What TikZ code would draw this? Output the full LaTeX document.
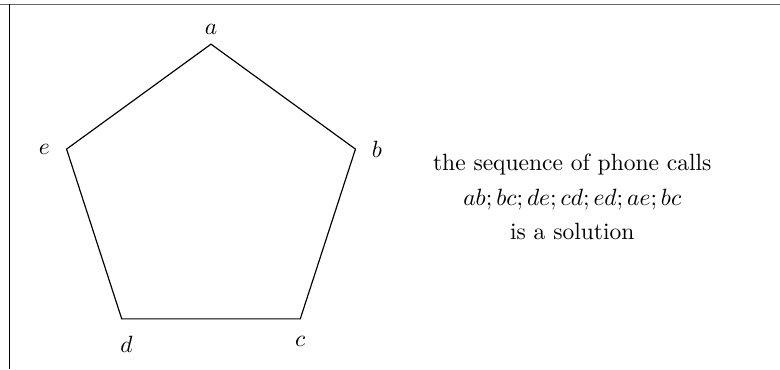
\documentclass[tikz,border=0pt]{standalone}
\usetikzlibrary{positioning}

\begin{document}
\begin{tikzpicture}[
    ivica/.style={draw=black, line width=0.5pt},
    oznaka/.style={inner sep=3.33pt},
    okvir/.style={line width=0.5pt},
    opis/.style={align=center, text centered}]

    \useasboundingbox (-3.154,-2.586) rectangle (8.505,2.930);

    % okvir
    \draw [okvir, line width=0.8pt, draw=black!60] (-3.154,2.863) -- (8.505,2.863);
    \draw [okvir] (-3.012,2.863) -- (-3.012,-2.586);

    % temena petougla
    \coordinate (a) at (90:2.27);
    \coordinate (b) at (18:2.27);
    \coordinate (c) at (-54:2.27);
    \coordinate (d) at (-126:2.27);
    \coordinate (e) at (162:2.27);

    \draw [ivica] (a) -- (b) -- (c) -- (d) -- (e) -- cycle;

    % oznake
    \node (la) [oznaka, above=0.5pt of a]             {$a$};
    \node (lb) [oznaka, right=3.5pt of b]             {$b$};
    \node (lc) [oznaka, below=4pt of c]               {$c$};
    \node (ld) [oznaka, below=4pt of d, xshift=2pt]   {$d$};
    \node (le) [oznaka, left=3.6pt of e]              {$e$};

    \node (resenje) [opis] at (5.40,-0.015)
        {the sequence of phone calls\\[2.6pt] $ab;bc;de;cd;ed;ae;bc$\\[2.6pt] is a solution};
\end{tikzpicture}
\end{document}
